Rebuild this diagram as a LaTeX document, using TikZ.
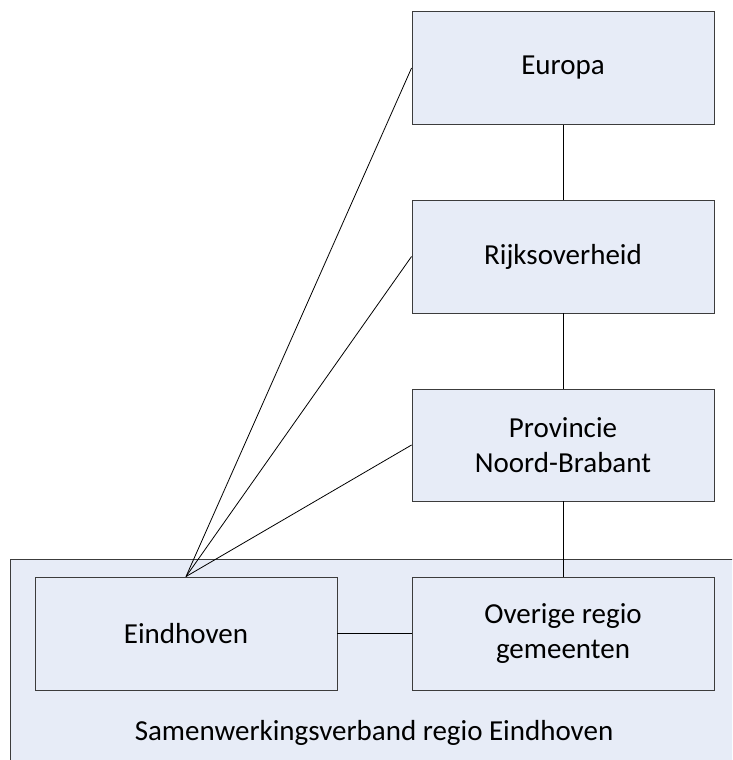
\documentclass[tikz,border=0pt]{standalone}
\usepackage{fontspec}
\setmainfont{Carlito}
\definecolor{boxfill}{RGB}{231,236,247}
\definecolor{edge}{RGB}{60,60,60}
\begin{document}
\begin{tikzpicture}[x=1pt,y=-1pt,
  unit/.style={draw=edge,fill=boxfill,line width=0.9pt,minimum width=302pt,minimum height=113pt,inner sep=0pt,align=center,font=\fontsize{29}{35}\selectfont},
  link/.style={draw=black,line width=0.8pt}]
\useasboundingbox (0,0) rectangle (732,760);
\clip (0,0) rectangle (732,760);
\fill[white] (0,0) rectangle (732,760);
\node[draw=edge,fill=boxfill,line width=0.9pt,minimum width=740pt,minimum height=220pt,inner sep=0pt,anchor=north west] (region) at (10,559) {};
\node[font=\fontsize{29}{35}\selectfont] (regionlabel) at (374,733) {Samenwerkingsverband regio Eindhoven};
\node[unit] (europa) at (563,68) {Europa};
\node[unit] (rijk) at (563,256.5) {Rijksoverheid};
\node[unit,minimum height=112pt] (prov) at (563,445) {Provincie\\Noord-Brabant};
\node[unit] (overig) at (563,633.5) {Overige regio\\gemeenten};
\node[unit] (ehv) at (186,633.5) {Eindhoven};
\draw[link] (europa) -- (rijk);
\draw[link] (rijk) -- (prov);
\draw[link] (prov) -- (overig);
\draw[link] (ehv) -- (overig);
\draw[link] (ehv.north) -- (europa.west);
\draw[link] (ehv.north) -- (rijk.west);
\draw[link] (ehv.north) -- (prov.west);
\end{tikzpicture}
\end{document}
